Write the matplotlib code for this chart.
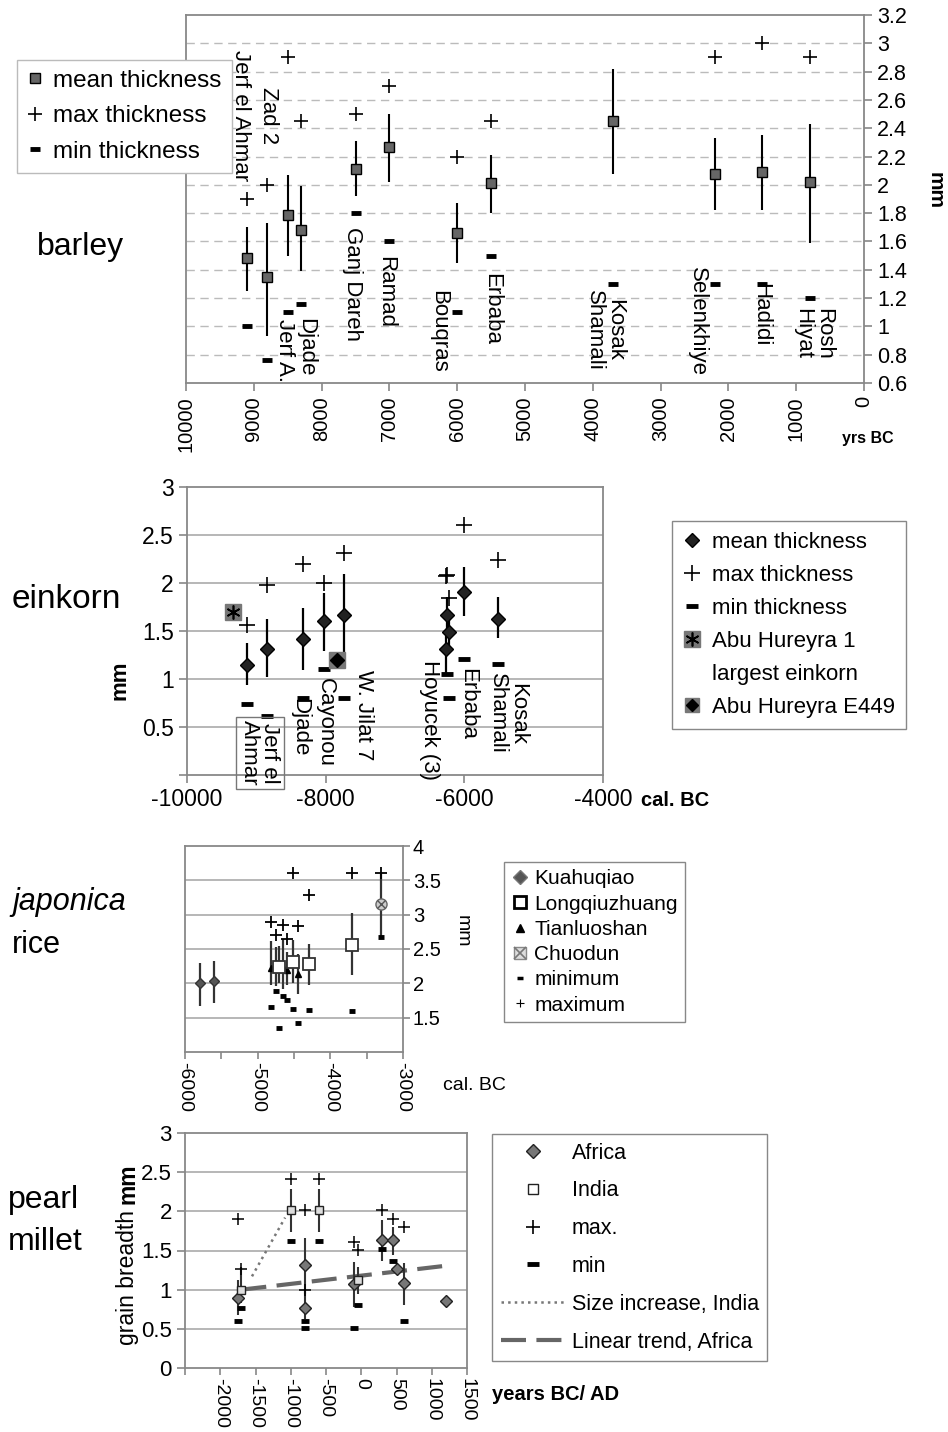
import numpy as np
import matplotlib
matplotlib.use('Agg')
import matplotlib.pyplot as plt
from matplotlib.lines import Line2D

plt.rcParams['font.family'] = ['Liberation Sans', 'DejaVu Sans']

nan = np.nan

# ---- barley (yrs BC) ----
barley_sites = ['Jerf el Ahmar', 'Jerf A.', 'Zad 2', 'Djade', 'Ganj Dareh', 'Ramad',
                'Bouqras', 'Erbaba', 'Kosak\nShamali', 'Selenkhiye', 'Hadidi', 'Rosh\nHiyat']
barley_yr = [9100, 8800, 8500, 8300, 7500, 7000, 6000, 5500, 3700, 2200, 1500, 800]
barley_mean = [1.48, 1.35, 1.79, 1.68, 2.11, 2.27, 1.66, 2.01, 2.45, 2.08, 2.09, 2.02]
barley_hi = [1.70, 1.73, 2.07, 1.99, 2.31, 2.50, 1.87, 2.21, 2.82, 2.33, 2.35, 2.43]
barley_lo = [1.25, 0.93, 1.50, 1.39, 1.92, 2.02, 1.45, 1.80, 2.08, 1.82, 1.82, 1.59]
barley_max = [1.90, 2.00, 2.90, 2.45, 2.50, 2.70, 2.20, 2.45, nan, 2.90, 3.00, 2.90]
barley_min = [1.00, 0.76, 1.10, 1.16, 1.80, 1.60, 1.10, 1.50, 1.30, 1.30, 1.30, 1.20]
# where the site names sit (x, top of text)
barley_lab_x = [9200, 8540, 8790, 8230, 7550, 7050, 6280, 5490, 3820, 2460, 1530, 750]
barley_lab_top = [2.95, 1.05, 2.69, 1.06, 1.70, 1.50, 1.26, 1.38, 1.26, 1.42, 1.31, 1.13]

# ---- einkorn (cal. BC) ----
ein_yr = [-9140, -8840, -8330, -8020, -7730, -6250, -6220, -6270, -6000, -5520]
ein_mean = [1.15, 1.31, 1.42, 1.60, 1.67, 1.67, 1.49, 1.31, 1.91, 1.63]
ein_hi = [1.37, 1.62, 1.74, 1.90, 2.09, 1.85, 1.72, 1.45, 2.17, 1.85]
ein_lo = [0.94, 1.02, 1.09, 1.29, 1.23, 1.50, 1.28, 1.05, 1.66, 1.43]
ein_max = [1.56, 1.98, 2.20, 2.00, 2.31, 2.08, 1.84, 2.07, 2.60, 2.24]
ein_min = [0.74, 0.61, 0.80, 1.10, 0.80, 1.05, 0.80, nan, 1.21, 1.16]
abu1_yr, abu1_val = -9330, 1.70
abu449_yr, abu449_val = -7830, 1.20
ein_labels = ['Jerf el\nAhmar', 'Djade', 'Cayonou', 'W. Jilat 7', 'Hoyucek (3)', 'Erbaba', 'Kosak\nShamali']
ein_lab_x = [-8950, -8370, -8010, -7460, -6500, -5950, -5370]
ein_lab_top = [0.57, 0.80, 1.01, 1.09, 1.20, 1.11, 1.06]

# ---- japonica rice (cal. BC) ----
kua_yr = [-5800, -5600]
kua_mean = [2.00, 2.03]
kua_hi = [2.29, 2.33]
kua_lo = [1.67, 1.71]
tia_yr = [-4810, -4750, -4650, -4600, -4450]
tia_mean = [2.23, 2.29, 2.24, 2.20, 2.13]
tia_hi = [2.62, 2.53, 2.65, 2.45, 2.43]
tia_lo = [1.98, 1.96, 1.92, 1.97, 1.84]
tia_max = [2.90, 2.70, 2.85, 2.64, 2.83]
tia_min = [1.66, 1.89, 1.81, 1.75, 1.42]
lon_yr = [-4700, -4510, -4300, -3700]
lon_mean = [2.24, 2.31, 2.28, 2.56]
lon_hi = [2.55, 2.63, 2.58, 3.02]
lon_lo = [2.00, 2.00, 1.98, 2.12]
lon_max = [nan, 3.60, 3.29, 3.60]
lon_min = [1.35, 1.62, 1.61, 1.60]
chu_yr, chu_mean, chu_hi, chu_lo = -3300, 3.16, 3.61, 2.68

# ---- pearl millet (years BC/AD) ----
afr_yr = [-1750, -800, -800, -100, 300, 450, 500, 600, 1200]
afr_mean = [0.90, 1.31, 0.77, 1.07, 1.63, 1.63, 1.27, 1.08, 0.86]
afr_hi = [1.12, 1.66, 1.00, 1.35, 1.89, 1.80, nan, 1.34, nan]
afr_lo = [0.68, 0.95, 0.62, 0.78, 1.37, 1.44, nan, 0.81, nan]
afr_max = [1.90, 2.02, 1.00, 1.61, 2.02, 1.90, nan, 1.80, nan]
afr_min = [0.60, 0.60, 0.51, 0.51, 1.52, 1.36, nan, 0.60, nan]
ind_yr = [-1700, -1000, -600, -50]
ind_mean = [1.00, 2.02, 2.02, 1.12]
ind_hi = [1.29, 2.28, 2.28, 1.29]
ind_lo = [0.83, 1.74, 1.74, 0.95]
ind_max = [1.26, 2.41, 2.41, 1.51]
ind_min = [0.76, 1.62, 1.62, 0.81]
india_inc_x = [-1550, -1080]
india_inc_y = [1.17, 1.92]
africa_trend_x = [-1700, 1150]
africa_trend_y = [1.00, 1.30]

W, H = 948, 1432
fig = plt.figure(figsize=(W / 100, H / 100), dpi=100)


def add_ax(l, t, r, b):
    return fig.add_axes([l / W, 1 - b / H, (r - l) / W, (b - t) / H])


def style(ax):
    for s in ax.spines.values():
        s.set_color('#888888')
        s.set_linewidth(1.3)
    ax.tick_params(direction='out', color='#888888', length=6, width=1.2)


def fx(x, y):
    return (x / W, 1 - y / H)


GRID = '#aaaaaa'

# ================= barley =================
ax1 = add_ax(186, 15, 864, 383)
style(ax1)
ax1.set_xlim(10000, 0)
ax1.set_ylim(0.6, 3.2)
ax1.yaxis.tick_right()
yt = np.round(np.arange(0.6, 3.21, 0.2), 1)
ax1.set_yticks(yt)
ax1.set_yticklabels([f'{v:g}' for v in yt], fontsize=15.5)
xt = np.arange(0, 10001, 1000)
ax1.set_xticks(xt)
ax1.set_xticklabels([str(v) for v in xt], rotation=90, fontsize=14.5)
for v in yt[1:-1]:
    ax1.axhline(v, color='#bbbbbb', lw=1, dashes=(6, 4), zorder=0)
ax1.vlines(barley_yr, barley_lo, barley_hi, color='k', lw=1.5)
ax1.plot(barley_yr, barley_mean, 's', ms=7.5, mfc='#666666', mec='k', mew=1)
ax1.plot(barley_yr, barley_max, '+', ms=10, mew=1.2, color='k')
ax1.plot(barley_yr, barley_min, '_', ms=7, mew=3.5, color='k')
for name, x, y in zip(barley_sites, barley_lab_x, barley_lab_top):
    ax1.text(x, y, name, rotation=270, ha='center', va='top', fontsize=16,
             linespacing=0.95)
fig.text(*fx(842, 438), 'yrs BC', fontsize=11.5, weight='bold', va='center')
fig.text(*fx(935, 190), 'mm', fontsize=15, weight='bold', rotation=270,
         ha='center', va='center')
fig.text(*fx(37, 247), 'barley', fontsize=23, va='center')
h1 = [Line2D([], [], ls='none', marker='s', ms=7, mfc='#666666', mec='k'),
      Line2D([], [], ls='none', marker='+', ms=10, mew=1.2, color='k'),
      Line2D([], [], ls='none', marker='_', ms=7, mew=3.5, color='k')]
fig.legend(h1, ['mean thickness', 'max thickness', 'min thickness'],
           loc='upper left', bbox_to_anchor=fx(17, 60), fancybox=False,
           edgecolor='#bbbbbb', framealpha=1, fontsize=17.5, handlelength=0.7,
           handletextpad=0.4, labelspacing=0.56, borderpad=0.4, borderaxespad=0)

# ================= einkorn =================
ax2 = add_ax(187, 487, 603, 775)
style(ax2)
ax2.set_xlim(-10000, -4000)
ax2.set_ylim(0, 3)
yt = np.arange(0, 3.01, 0.5)
ax2.set_yticks(yt)
ax2.set_yticklabels([''] + [f'{v:g}' for v in yt[1:]], fontsize=16.5)
ax2.set_xticks([-10000, -8000, -6000, -4000])
ax2.set_xticklabels(['-10000', '-8000', '-6000', '-4000'], fontsize=16.5)
for v in yt[1:-1]:
    ax2.axhline(v, color=GRID, lw=1.2, zorder=0)
ax2.vlines(ein_yr, ein_lo, ein_hi, color='k', lw=1.6)
ax2.plot(ein_yr, ein_mean, 'D', ms=7, mfc='#222222', mec='k')
ax2.plot(ein_yr, ein_max, '+', ms=11, mew=1.2, color='k')
ax2.plot(ein_yr, ein_min, '_', ms=8, mew=3.5, color='k')
ax2.plot(abu1_yr, abu1_val, 's', ms=11, mfc='#777777', mec='#777777')
ax2.plot(abu1_yr, abu1_val, marker=(6, 2, 0), ms=10, color='k', mew=1.2)
ax2.plot(abu449_yr, abu449_val, 's', ms=11, mfc='#777777', mec='#777777')
ax2.plot(abu449_yr, abu449_val, 'D', ms=7, mfc='k', mec='k')
for name, x, y in zip(ein_labels, ein_lab_x, ein_lab_top):
    kw = {}
    if name.startswith('Jerf'):
        kw['bbox'] = dict(boxstyle='square,pad=0.15', fc='none', ec='#777777', lw=1)
    ax2.text(x, y, name, rotation=270, ha='center', va='top', fontsize=16,
             linespacing=0.95, **kw)
fig.text(*fx(641, 800), 'cal. BC', fontsize=14.5, weight='bold', va='center')
fig.text(*fx(120, 680), 'mm', fontsize=16, weight='bold', rotation=90,
         ha='center', va='center')
fig.text(*fx(12, 600), 'einkorn', fontsize=24, va='center')
h2 = [Line2D([], [], ls='none', marker='D', ms=7, mfc='#222222', mec='k'),
      Line2D([], [], ls='none', marker='+', ms=11, mew=1.2, color='k'),
      Line2D([], [], ls='none', marker='_', ms=9, mew=3.5, color='k'),
      (Line2D([], [], ls='none', marker='s', ms=11, mfc='#777777', mec='#777777'),
       Line2D([], [], ls='none', marker=(6, 2, 0), ms=10, mew=1.2, color='k')),
      Line2D([], [], ls='none'),
      (Line2D([], [], ls='none', marker='s', ms=10, mfc='#777777', mec='#777777'),
       Line2D([], [], ls='none', marker='D', ms=6, mfc='k', mec='k'))]
fig.legend(h2, ['mean thickness', 'max thickness', 'min thickness', 'Abu Hureyra 1',
                'largest einkorn', 'Abu Hureyra E449'],
           loc='upper left', bbox_to_anchor=fx(672, 521), fancybox=False,
           edgecolor='#888888', framealpha=1, fontsize=16, handlelength=0.8,
           handletextpad=0.5, labelspacing=0.54, borderpad=0.5, borderaxespad=0)

# ================= japonica rice =================
ax3 = add_ax(185, 846, 403, 1052)
style(ax3)
ax3.set_xlim(-6000, -3000)
ax3.set_ylim(1, 4)
ax3.yaxis.tick_right()
yt = np.arange(1.5, 4.01, 0.5)
ax3.set_yticks(yt)
ax3.set_yticklabels([f'{v:g}' for v in yt], fontsize=14.5)
ax3.set_xticks(np.arange(-6000, -2999, 1000))
ax3.set_xticklabels([str(v) for v in range(-6000, -2999, 1000)], rotation=270,
                    fontsize=14)
ax3.set_xticks(np.arange(-6000, -2999, 500), minor=True)
ax3.tick_params(which='both', direction='out', color='#888888', length=5,
                width=1.2, pad=2)
for v in yt[:-1]:
    ax3.axhline(v, color=GRID, lw=1.2, zorder=0)
ec = '#333333'
ax3.vlines(kua_yr, kua_lo, kua_hi, color=ec, lw=1.6)
ax3.vlines(tia_yr, tia_lo, tia_hi, color=ec, lw=1.6)
ax3.vlines(lon_yr, lon_lo, lon_hi, color=ec, lw=1.6)
ax3.vlines(chu_yr, chu_lo, chu_hi, color=ec, lw=1.6)
ax3.plot(kua_yr, kua_mean, 'D', ms=5, mfc='#555555', mec='#333333')
ax3.plot(tia_yr, tia_mean, '^', ms=4, color='k')
ax3.plot(lon_yr, lon_mean, 's', ms=9, mfc='white', mec='#333333', mew=1.3)
ax3.plot(chu_yr, chu_mean, 'o', ms=8, mfc='#cccccc', mec='#666666')
ax3.plot(chu_yr, chu_mean, 'x', ms=6, color='#555555', mew=1)
ax3.plot(tia_yr + lon_yr + [chu_yr], tia_max + lon_max + [chu_hi], '+', ms=8,
         mew=1.3, color='k')
ax3.plot(tia_yr + lon_yr + [chu_yr], tia_min + lon_min + [chu_lo], '_', ms=5,
         mew=3.5, color='k')
fig.text(*fx(462, 931), 'mm', fontsize=14, rotation=270, ha='center', va='center')
fig.text(*fx(443, 1086), 'cal. BC', fontsize=14, va='center')
fig.text(*fx(12, 902), 'japonica', fontsize=22, style='italic', va='center')
fig.text(*fx(12, 945), 'rice', fontsize=22, va='center')
h3 = [Line2D([], [], ls='none', marker='D', ms=7, mfc='#555555', mec='#777777'),
      Line2D([], [], ls='none', marker='s', ms=9, mfc='white', mec='k', mew=2),
      Line2D([], [], ls='none', marker='^', ms=6, color='k'),
      (Line2D([], [], ls='none', marker='s', ms=9, mfc='#dddddd', mec='#888888'),
       Line2D([], [], ls='none', marker='x', ms=8, mew=1.2, color='#777777')),
      Line2D([], [], ls='none', marker='_', ms=5, mew=2.5, color='k'),
      Line2D([], [], ls='none', marker='+', ms=6, mew=0.8, color='k')]
fig.legend(h3, ['Kuahuqiao', 'Longqiuzhuang', 'Tianluoshan', 'Chuodun', 'minimum',
                'maximum'],
           loc='upper left', bbox_to_anchor=fx(504, 862), fancybox=False,
           edgecolor='#888888', framealpha=1, fontsize=15, handlelength=0.8,
           handletextpad=0.3, labelspacing=0.3, borderpad=0.35, borderaxespad=0)

# ================= pearl millet =================
ax4 = add_ax(185, 1133, 467, 1368)
style(ax4)
ax4.set_xlim(-2500, 1500)
ax4.set_ylim(0, 3)
yt = np.arange(0, 3.01, 0.5)
ax4.set_yticks(yt)
ax4.set_yticklabels([f'{v:g}' for v in yt], fontsize=16)
xt = np.arange(-2500, 1501, 500)
ax4.set_xticks(xt)
ax4.set_xticklabels([''] + [str(v) for v in xt[1:]], rotation=270, fontsize=14)
ax4.tick_params(axis='x', length=5, pad=2)
for v in yt[1:-1]:
    ax4.axhline(v, color=GRID, lw=1.2, zorder=0)
ax4.plot(india_inc_x, india_inc_y, ls=':', color='#777777', lw=1.8)
ax4.plot(africa_trend_x, africa_trend_y, ls=(0, (6, 2.5)), color='#666666', lw=3)
ax4.vlines(afr_yr, afr_lo, afr_hi, color=ec, lw=1.5)
ax4.vlines(ind_yr, ind_lo, ind_hi, color=ec, lw=1.5)
ax4.plot(afr_yr, afr_mean, 'D', ms=6, mfc='#777777', mec='#222222')
ax4.plot(ind_yr, ind_mean, 's', ms=6, mfc='#dddddd', mec='#222222')
ax4.plot(afr_yr + ind_yr, afr_max + ind_max, '+', ms=8, mew=1.1, color='k')
ax4.plot(afr_yr + ind_yr, afr_min + ind_min, '_', ms=6, mew=3.5, color='k')
gb = fig.text(*fx(128, 1345), 'grain breadth ', fontsize=16.5, rotation=90,
              ha='center', va='bottom')
fig.canvas.draw()
gb_top = gb.get_window_extent().y1 / H
fig.text(128 / W, gb_top, 'mm', fontsize=16.5, weight='bold', rotation=90,
         ha='center', va='bottom')
fig.text(*fx(492, 1395), 'years BC/ AD', fontsize=14.5, weight='bold', va='center')
fig.text(*fx(8, 1200), 'pearl', fontsize=23, va='center')
fig.text(*fx(8, 1242), 'millet', fontsize=23, va='center')
h4 = [Line2D([], [], ls='none', marker='D', ms=7, mfc='#777777', mec='#222222'),
      Line2D([], [], ls='none', marker='s', ms=7, mfc='white', mec='#222222'),
      Line2D([], [], ls='none', marker='+', ms=10, mew=1.2, color='k'),
      Line2D([], [], ls='none', marker='_', ms=8, mew=3.5, color='k'),
      Line2D([], [], ls=':', color='#777777', lw=1.8),
      Line2D([], [], ls=(0, (6, 2.5)), color='#666666', lw=3)]
fig.legend(h4, ['Africa', 'India', 'max.', 'min', 'Size increase, India',
                'Linear trend, Africa'],
           loc='upper left', bbox_to_anchor=fx(492, 1134), fancybox=False,
           edgecolor='#888888', framealpha=1, fontsize=15.5, handlelength=3,
           handletextpad=0.3, labelspacing=0.78, borderpad=0.4, borderaxespad=0)

fig.savefig('out.png', dpi=100)
